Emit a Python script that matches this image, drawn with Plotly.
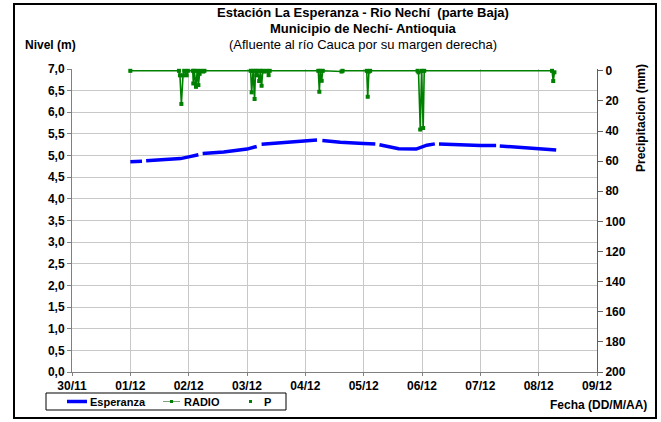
import plotly.graph_objects as go

# ---------------- data ----------------
day_ticks = ["2012-11-30", "2012-12-01", "2012-12-02", "2012-12-03", "2012-12-04",
             "2012-12-05", "2012-12-06", "2012-12-07", "2012-12-08", "2012-12-09"]
day_labels = ["30/11", "01/12", "02/12", "03/12", "04/12", "05/12", "06/12", "07/12", "08/12", "09/12"]

# Nivel (m) - Esperanza (None = missing record)
nivel_time = [
    "2012-12-01 00:00", "2012-12-01 04:48", "2012-12-01 05:40", "2012-12-01 06:30",
    "2012-12-01 14:24", "2012-12-01 20:38", "2012-12-02 00:00", "2012-12-02 04:00",
    "2012-12-02 04:50", "2012-12-02 05:45", "2012-12-02 14:24", "2012-12-03 00:00",
    "2012-12-03 04:00", "2012-12-03 05:00", "2012-12-03 06:00", "2012-12-03 14:24",
    "2012-12-03 21:36", "2012-12-04 04:48", "2012-12-04 05:50", "2012-12-04 07:00",
    "2012-12-04 14:24", "2012-12-05 00:00", "2012-12-05 04:48", "2012-12-05 05:40",
    "2012-12-05 06:30", "2012-12-05 14:24", "2012-12-05 21:36", "2012-12-06 02:00",
    "2012-12-06 05:17", "2012-12-06 06:05", "2012-12-06 07:00", "2012-12-06 16:48",
    "2012-12-07 00:00", "2012-12-07 06:30", "2012-12-07 07:15", "2012-12-07 08:00",
    "2012-12-07 20:24", "2012-12-08 07:12",
]
nivel_m = [
    4.86, 4.87, None, 4.88,
    4.90, 4.93, 4.97, 5.02,
    None, 5.05, 5.08, 5.15,
    5.21, None, 5.26, 5.30,
    5.34, 5.36, None, 5.35,
    5.31, 5.28, 5.27, None,
    5.25, 5.16, 5.15, 5.24,
    5.27, None, 5.27, 5.24,
    5.23, 5.23, None, 5.22,
    5.17, 5.13,
]

# Precipitacion (mm) - RADIO / P
precip_time = [
    "2012-12-01 00:00", "2012-12-01 20:00", "2012-12-01 20:24", "2012-12-01 21:00",
    "2012-12-01 21:40", "2012-12-01 22:10", "2012-12-01 23:10", "2012-12-01 23:40",
    "2012-12-02 01:40", "2012-12-02 01:55", "2012-12-02 02:20", "2012-12-02 03:00",
    "2012-12-02 03:30", "2012-12-02 04:00", "2012-12-02 04:30", "2012-12-02 05:00",
    "2012-12-02 06:00", "2012-12-02 06:30", "2012-12-03 01:30", "2012-12-03 01:55",
    "2012-12-03 02:30", "2012-12-03 03:07", "2012-12-03 03:30", "2012-12-03 03:50",
    "2012-12-03 04:20", "2012-12-03 05:02", "2012-12-03 05:30", "2012-12-03 06:00",
    "2012-12-03 06:30", "2012-12-03 07:12", "2012-12-03 08:00", "2012-12-03 08:53",
    "2012-12-03 09:20", "2012-12-04 05:20", "2012-12-04 05:46", "2012-12-04 06:10",
    "2012-12-04 06:43", "2012-12-04 07:10", "2012-12-04 14:53", "2012-12-04 15:20",
    "2012-12-05 01:15", "2012-12-05 01:40", "2012-12-05 02:10", "2012-12-05 02:40",
    "2012-12-05 22:10", "2012-12-05 22:34", "2012-12-05 23:17", "2012-12-05 23:50",
    "2012-12-06 00:29", "2012-12-06 00:55", "2012-12-08 05:30", "2012-12-08 06:00",
    "2012-12-08 06:29",
]
precip_mm = [
    0, 0, 3, 22,
    3, 0, 3, 0,
    0, 8.4, 0, 10.6,
    0, 9.5, 2, 0,
    0.5, 0, 0, 14.3,
    0, 18.7, 0, 3,
    0, 6.8, 0, 9.9,
    0, 0.5, 0, 2.9,
    0, 0, 13.9, 0,
    6.6, 0, 0.5, 0,
    0, 17.2, 0.5, 0,
    0, 1, 39, 0,
    38, 0, 0, 6.8,
    1,
]

series_names = ["Esperanza", "RADIO", "P"]

# ---------------- figure ----------------
BLUE = "#0000FF"
GREEN = "#008000"
FONT = "Liberation Sans, Arial, sans-serif"

fig = go.Figure()
fig.add_trace(go.Scatter(
    x=nivel_time, y=nivel_m, name=series_names[0], mode="lines",
    line=dict(color=BLUE, width=3.5), connectgaps=False, yaxis="y",
))
fig.add_trace(go.Scatter(
    x=precip_time, y=precip_mm, name=series_names[1], mode="lines+markers",
    line=dict(color=GREEN, width=1.6), marker=dict(color=GREEN, size=4, symbol="square"),
    yaxis="y2", cliponaxis=False,
))
fig.add_trace(go.Scatter(
    x=precip_time, y=precip_mm, name=series_names[2], mode="markers",
    marker=dict(color=GREEN, size=3, symbol="square"), yaxis="y2", cliponaxis=False,
))

fig.update_layout(
    width=661, height=422,
    margin=dict(l=72, r=64, t=69, b=50, autoexpand=False),
    paper_bgcolor="white", plot_bgcolor="white",
    separators=",.",
    font=dict(family=FONT, size=12, color="black"),
    showlegend=False,
    xaxis=dict(
        type="date", range=["2012-11-30", "2012-12-09"],
        tickvals=day_ticks, ticktext=day_labels,
        tickfont=dict(family=FONT, size=12, color="black", weight="bold"),
        showgrid=True, gridcolor="#C8C8C8", gridwidth=1,
        showline=True, linecolor="#808080", linewidth=1,
        ticks="outside", ticklen=3, tickcolor="#808080",
        zeroline=False,
    ),
    yaxis=dict(
        range=[0, 7], dtick=0.5, tick0=0, tickformat=".1f",
        tickfont=dict(family=FONT, size=12, color="black", weight="bold"),
        showgrid=True, gridcolor="#C8C8C8", gridwidth=1,
        showline=True, linecolor="#808080", linewidth=1,
        ticks="outside", ticklen=4, tickcolor="#808080",
        zeroline=False,
    ),
    yaxis2=dict(
        range=[200, -1.2], tickvals=[0, 20, 40, 60, 80, 100, 120, 140, 160, 180, 200],
        overlaying="y", side="right",
        tickfont=dict(family=FONT, size=12, color="black", weight="bold"),
        showgrid=False, showline=True, linecolor="#606060", linewidth=1,
        ticks="outside", ticklen=5, tickcolor="#606060",
        zeroline=False,
    ),
)


def px_x(p):
    return (p - 72) / 525


def px_y(p):
    return (372 - p) / 303


annotations = [
    dict(text="<b>Estación La Esperanza - Rio Nechí  (parte Baja)</b>", x=363, y=13, size=13),
    dict(text="<b>Municipio de Nechí- Antioquia</b>", x=363, y=29, size=13),
    dict(text="(Afluente al río Cauca por su margen derecha)", x=363, y=45, size=13),
    dict(text="<b>Nivel (m)</b>", x=50, y=45, size=12),
]
for a in annotations:
    fig.add_annotation(
        text=a["text"], xref="paper", yref="paper", x=px_x(a["x"]), y=px_y(a["y"]),
        xanchor="center", yanchor="middle", showarrow=False,
        font=dict(family=FONT, size=a["size"], color="black"),
    )
fig.add_annotation(
    text="<b>Fecha (DD/M/AA)</b>", xref="paper", yref="paper",
    x=px_x(649), y=px_y(405), xanchor="right", yanchor="middle",
    showarrow=False, font=dict(family=FONT, size=12, color="black"),
)
fig.add_annotation(
    text="<b>Precipitacion (mm)</b>", xref="paper", yref="paper",
    x=px_x(641), y=px_y(118), xanchor="center", yanchor="middle",
    textangle=-90, showarrow=False, font=dict(family=FONT, size=12, color="black"),
)

# ---- legend box (drawn like the original spreadsheet legend) ----
LY = 401.5
fig.add_shape(type="rect", xref="paper", yref="paper",
              x0=px_x(46), x1=px_x(286), y0=px_y(410), y1=px_y(393),
              line=dict(color="black", width=1), fillcolor="white", layer="above")
fig.add_shape(type="line", xref="paper", yref="paper",
              x0=px_x(67), x1=px_x(87), y0=px_y(LY), y1=px_y(LY),
              line=dict(color=BLUE, width=3.5), layer="above")
fig.add_shape(type="line", xref="paper", yref="paper",
              x0=px_x(163), x1=px_x(180), y0=px_y(LY), y1=px_y(LY),
              line=dict(color="#7F9F7F", width=1), layer="above")
fig.add_shape(type="rect", xref="paper", yref="paper",
              x0=px_x(170), x1=px_x(173), y0=px_y(LY + 1.5), y1=px_y(LY - 1.5),
              line=dict(color=GREEN, width=0), fillcolor=GREEN, layer="above")
fig.add_shape(type="rect", xref="paper", yref="paper",
              x0=px_x(249), x1=px_x(252), y0=px_y(LY + 1.5), y1=px_y(LY - 1.5),
              line=dict(color=GREEN, width=0), fillcolor=GREEN, layer="above")
for name, xpos in zip(series_names, [88, 182, 262]):
    fig.add_annotation(
        text="<b>%s</b>" % name, xref="paper", yref="paper",
        x=px_x(xpos), y=px_y(LY), xanchor="left", yanchor="middle",
        showarrow=False, font=dict(family=FONT, size=11, color="black"),
    )

# outer chart frame
fig.add_shape(
    type="rect", xref="paper", yref="paper",
    x0=px_x(14), x1=px_x(656), y0=px_y(418), y1=px_y(4),
    line=dict(color="black", width=2), fillcolor="rgba(0,0,0,0)", layer="above",
)

fig.write_html(
    "out.html",
    config={"displayModeBar": False},
    post_script="document.body.style.margin='0';document.body.style.padding='0';",
)
